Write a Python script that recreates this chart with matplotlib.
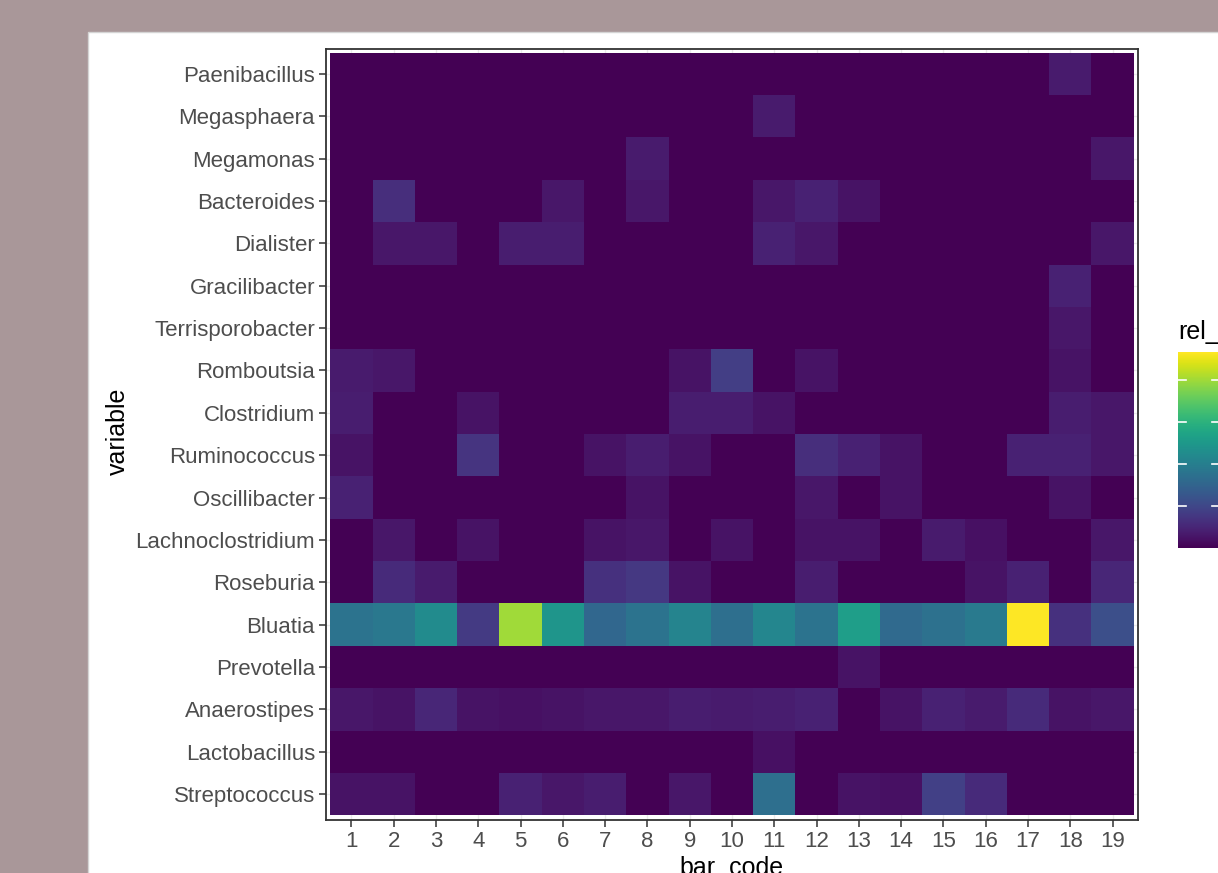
import numpy as np
import matplotlib
matplotlib.use("Agg")
import matplotlib.pyplot as plt
from matplotlib.patches import Rectangle

plt.rcParams['font.family'] = ['Liberation Sans', 'DejaVu Sans']

# Data: relative abundance per genus (rows, top to bottom) and bar code (columns 1..19)
bar_codes = [str(i) for i in range(1, 20)]
genera = ["Paenibacillus", "Megasphaera", "Megamonas", "Bacteroides", "Dialister",
          "Gracilibacter", "Terrisporobacter", "Romboutsia", "Clostridium",
          "Ruminococcus", "Oscillibacter", "Lachnoclostridium", "Roseburia",
          "Bluatia", "Prevotella", "Anaerostipes", "Lactobacillus", "Streptococcus"]

paenibacillus = [0, 0, 0, 0, 0, 0, 0, 0, 0, 0, 0, 0, 0, 0, 0, 0, 0, 0.033, 0]
megasphaera = [0, 0, 0, 0, 0, 0, 0, 0, 0, 0, 0.033, 0, 0, 0, 0, 0, 0, 0, 0]
megamonas = [0, 0, 0, 0, 0, 0, 0, 0.033, 0, 0, 0, 0, 0, 0, 0, 0, 0, 0, 0.028]
bacteroides = [0, 0.061, 0, 0, 0, 0.028, 0, 0.028, 0, 0, 0.028, 0.042, 0.023, 0, 0, 0, 0, 0, 0]
dialister = [0, 0.028, 0.028, 0, 0.037, 0.037, 0, 0, 0, 0, 0.042, 0.028, 0, 0, 0, 0, 0, 0, 0.028]
gracilibacter = [0, 0, 0, 0, 0, 0, 0, 0, 0, 0, 0, 0, 0, 0, 0, 0, 0, 0.042, 0]
terrisporobacter = [0, 0, 0, 0, 0, 0, 0, 0, 0, 0, 0, 0, 0, 0, 0, 0, 0, 0.028, 0]
romboutsia = [0.033, 0.028, 0, 0, 0, 0, 0, 0, 0.023, 0.084, 0, 0.023, 0, 0, 0, 0, 0, 0.023, 0]
clostridium = [0.037, 0, 0, 0.023, 0, 0, 0, 0, 0.037, 0.037, 0.023, 0, 0, 0, 0, 0, 0, 0.037, 0.028]
ruminococcus = [0.023, 0, 0, 0.07, 0, 0, 0.023, 0.037, 0.023, 0, 0, 0.061, 0.042, 0.023, 0, 0, 0.042, 0.042, 0.028]
oscillibacter = [0.042, 0, 0, 0, 0, 0, 0, 0.023, 0, 0, 0, 0.028, 0, 0.023, 0, 0, 0, 0.023, 0]
lachnoclostridium = [0, 0.028, 0, 0.023, 0, 0, 0.023, 0.028, 0, 0.023, 0, 0.023, 0.023, 0, 0.033, 0.019, 0, 0, 0.028]
roseburia = [0, 0.056, 0.033, 0, 0, 0, 0.065, 0.075, 0.023, 0, 0, 0.037, 0, 0, 0, 0.023, 0.042, 0, 0.051]
bluatia = [0.177, 0.187, 0.224, 0.079, 0.40, 0.243, 0.154, 0.177, 0.21, 0.168, 0.215, 0.177, 0.26, 0.159, 0.173, 0.19, 0.467, 0.065, 0.112]
prevotella = [0, 0, 0, 0, 0, 0, 0, 0, 0, 0, 0, 0, 0.023, 0, 0, 0, 0, 0, 0]
anaerostipes = [0.028, 0.023, 0.051, 0.023, 0.019, 0.023, 0.028, 0.028, 0.037, 0.033, 0.037, 0.042, 0, 0.023, 0.042, 0.033, 0.056, 0.023, 0.028]
lactobacillus = [0, 0, 0, 0, 0, 0, 0, 0, 0, 0, 0.019, 0, 0, 0, 0, 0, 0, 0, 0]
streptococcus = [0.023, 0.023, 0, 0, 0.042, 0.028, 0.037, 0, 0.028, 0, 0.168, 0, 0.023, 0.019, 0.089, 0.056, 0, 0, 0]

rel_abundance = np.array([paenibacillus, megasphaera, megamonas, bacteroides, dialister,
                          gracilibacter, terrisporobacter, romboutsia, clostridium,
                          ruminococcus, oscillibacter, lachnoclostridium, roseburia,
                          bluatia, prevotella, anaerostipes, lactobacillus, streptococcus])
legend_ticks = [0.1, 0.2, 0.3, 0.4]

W, H = 1218, 873
fig = plt.figure(figsize=(W / 100, H / 100), dpi=100)
fig.patch.set_facecolor('#a99799')

# white plot background (screenshot window)
fig.patches.append(Rectangle((88 / W, -0.05), 1.0, (H - 32) / H + 0.05, transform=fig.transFigure,
                             facecolor='white', edgecolor='#d4d4d4', lw=1.0, zorder=-10))

ax = fig.add_axes([326 / W, (H - 819.5) / H, (1138 - 326) / W, (819.5 - 48.5) / H])
vmax = rel_abundance.max()
nrow, ncol = rel_abundance.shape
ax.pcolormesh(np.arange(0.5, ncol + 1), np.arange(0.5, nrow + 1), rel_abundance[::-1],
              cmap='viridis', vmin=0, vmax=vmax)
ax.set_xlim(0.4, ncol + 0.6)
ax.set_ylim(0.4, nrow + 0.6)
ax.set_xticks(np.arange(1, ncol + 1))
ax.set_xticklabels(bar_codes)
ax.set_yticks(np.arange(1, nrow + 1))
ax.set_yticklabels(genera[::-1])
ax.grid(True, color='#ebebeb', lw=1.0)
ax.set_axisbelow(True)
ax.tick_params(axis='both', labelsize=16, labelcolor='#4d4d4d', color='#333333',
               length=5, width=1.1, pad=3)
for sp in ax.spines.values():
    sp.set_color('#333333')
    sp.set_linewidth(1.3)

fig.text(118 / W, 1 - 431 / H, 'variable', rotation=90, ha='center', va='center', fontsize=18)
fig.text(732 / W, 1 - 856 / H, 'bar_code', ha='center', va='top', fontsize=18)

# colour bar (cut by the right edge of the screenshot)
cax = fig.add_axes([1178 / W, (H - 548) / H, 42 / W, 196 / H])
cax.imshow(np.linspace(0, vmax, 300)[:, None], aspect='auto', cmap='viridis', origin='lower',
           extent=(0, 1, 0, vmax))
for t in legend_ticks:
    cax.plot([0, 0.2], [t, t], color='white', lw=1.2)
    cax.plot([0.8, 1], [t, t], color='white', lw=1.2)
cax.set_xlim(0, 1)
cax.set_ylim(0, vmax)
cax.axis('off')
fig.text(1178 / W, 1 - 332 / H, 'rel_abundance', ha='left', va='center', fontsize=18)

fig.savefig('out.png', dpi=100)
